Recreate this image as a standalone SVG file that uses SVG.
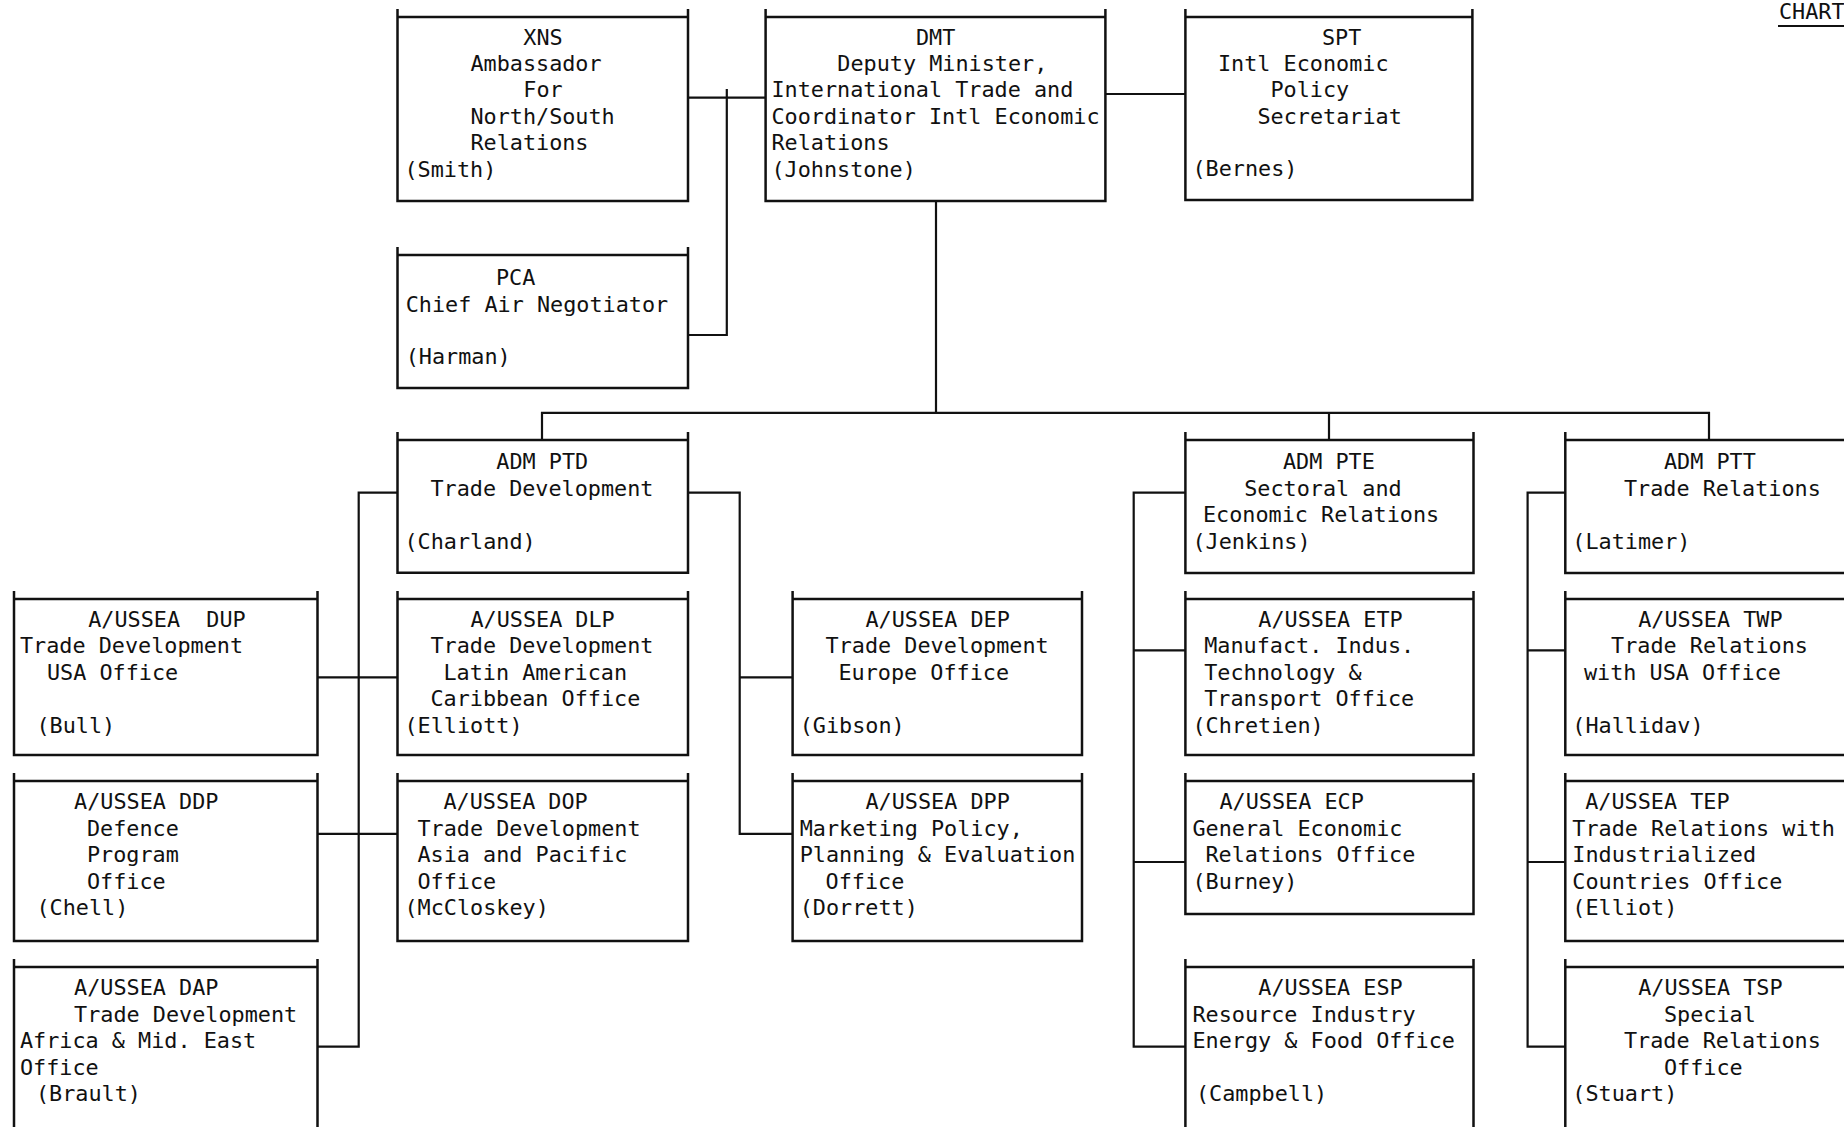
<svg xmlns="http://www.w3.org/2000/svg" width="1844" height="1127" viewBox="0 0 1844 1127">
<style>
.b{fill:none;stroke:#111;stroke-width:2.5}
.c{fill:none;stroke:#111;stroke-width:2.2}
text{font-family:"DejaVu Sans Mono","Liberation Mono",monospace;font-size:21.8px;fill:#111}
</style>
<rect width="1844" height="1127" fill="#fff"/>
<g id="connectors" class="c">
<path d="M688 97.6H765.6"/>
<path d="M726.8 89V335H688"/>
<path d="M1105.4 94H1185.4"/>
<path d="M936 201V412.8"/>
<path d="M542 440V412.8H1709V440M1329 412.8V440"/>
<path d="M397.5 492.7H358.7V1046.6H317.5M317.5 677.4H397.5M317.5 833.8H397.5"/>
<path d="M688 492.7H739.7V833.8H792.6M739.7 677.4H792.6"/>
<path d="M1185.4 492.7H1133.7V1046.6H1185.4M1133.7 650.3H1185.4M1133.7 862H1185.4"/>
<path d="M1565.3 492.7H1527.6V1046.6H1565.3M1527.6 650.3H1565.3M1527.6 862H1565.3"/>
</g>
<g id="chart"><text x="1779" y="19">CHART</text><path class="c" d="M1778 26H1844"/></g>
<g id="XNS"><path class="b" d="M397.5 9V201H688V9M397.5 17H688"/>
<text x="523.3" y="44.6">XNS</text><text x="470.4" y="71">Ambassador</text><text x="523.3" y="97.4">For</text><text x="470.4" y="123.8">North/South</text><text x="470.4" y="150.2">Relations</text><text x="404.5" y="176.6">(Smith)</text></g>
<g id="DMT"><path class="b" d="M765.6 9V201H1105.4V9M765.6 17H1105.4"/>
<text x="916" y="44.6">DMT</text><text x="837.3" y="71">Deputy Minister,</text><text x="771.5" y="97.4">International Trade and</text><text x="771.5" y="123.8">Coordinator Intl Economic</text><text x="771.5" y="150.2">Relations</text><text x="771.5" y="176.6">(Johnstone)</text></g>
<g id="SPT"><path class="b" d="M1185.4 9V200H1472.4V9M1185.4 17H1472.4"/>
<text x="1322" y="44.6">SPT</text><text x="1218" y="71">Intl Economic</text><text x="1270.5" y="97.4">Policy</text><text x="1257.5" y="123.8">Secretariat</text><text x="1192.5" y="176">(Bernes)</text></g>
<g id="PCA"><path class="b" d="M397.5 247V388H688V247M397.5 255H688"/>
<text x="496" y="284.5">PCA</text><text x="405.7" y="311.5">Chief Air Negotiator</text><text x="405.7" y="363.5">(Harman)</text></g>
<g id="PTD"><path class="b" d="M397.5 432V572.7H688V432M397.5 440H688"/>
<text x="496.3" y="469">ADM PTD</text><text x="430.4" y="495.5">Trade Development</text><text x="404.5" y="548.5">(Charland)</text></g>
<g id="PTE"><path class="b" d="M1185.4 432V573H1473.5V432M1185.4 440H1473.5"/>
<text x="1283" y="469">ADM PTE</text><text x="1244.2" y="495.5">Sectoral and</text><text x="1203" y="522">Economic Relations</text><text x="1192.5" y="548.5">(Jenkins)</text></g>
<g id="PTT"><path class="b" d="M1565.3 432V573H1860M1565.3 440H1860"/>
<text x="1664" y="469">ADM PTT</text><text x="1624" y="495.5">Trade Relations</text><text x="1572.3" y="548.5">(Latimer)</text></g>
<g id="DUP"><path class="b" d="M14 591V755H317.5V591M14 599H317.5"/>
<text x="88.2" y="626.5" xml:space="preserve">A/USSEA  DUP</text><text x="20" y="653">Trade Development</text><text x="47" y="679.5">USA Office</text><text x="36.5" y="732.5">(Bull)</text></g>
<g id="DLP"><path class="b" d="M397.5 591V755H688V591M397.5 599H688"/>
<text x="470.4" y="626.5">A/USSEA DLP</text><text x="430.4" y="653">Trade Development</text><text x="443.4" y="679.5">Latin American</text><text x="430.4" y="706">Caribbean Office</text><text x="404.5" y="732.5">(Elliott)</text></g>
<g id="DEP"><path class="b" d="M792.6 591V755H1082V591M792.6 599H1082"/>
<text x="865.5" y="626.5">A/USSEA DEP</text><text x="825.6" y="653">Trade Development</text><text x="838.5" y="679.5">Europe Office</text><text x="799.7" y="732.5">(Gibson)</text></g>
<g id="ETP"><path class="b" d="M1185.4 591V755H1473.5V591M1185.4 599H1473.5"/>
<text x="1258.3" y="626.5">A/USSEA ETP</text><text x="1204.2" y="653">Manufact. Indus.</text><text x="1204.2" y="679.5">Technology &amp;</text><text x="1204.2" y="706">Transport Office</text><text x="1192.5" y="732.5">(Chretien)</text></g>
<g id="TWP"><path class="b" d="M1565.3 591V755H1860M1565.3 599H1860"/>
<text x="1638.2" y="626.5">A/USSEA TWP</text><text x="1611.1" y="653">Trade Relations</text><text x="1584" y="679.5">with USA Office</text><text x="1572.3" y="732.5">(Hallidav)</text></g>
<g id="DDP"><path class="b" d="M14 773V941H317.5V773M14 781H317.5"/>
<text x="74.1" y="809">A/USSEA DDP</text><text x="87" y="835.5">Defence</text><text x="87" y="862">Program</text><text x="87" y="888.5">Office</text><text x="36.5" y="915">(Chell)</text></g>
<g id="DOP"><path class="b" d="M397.5 773V941H688V773M397.5 781H688"/>
<text x="443.4" y="809">A/USSEA DOP</text><text x="417.5" y="835.5">Trade Development</text><text x="417.5" y="862">Asia and Pacific</text><text x="417.5" y="888.5">Office</text><text x="404.5" y="915">(McCloskey)</text></g>
<g id="DPP"><path class="b" d="M792.6 773V941H1082V773M792.6 781H1082"/>
<text x="865.5" y="809">A/USSEA DPP</text><text x="799.7" y="835.5">Marketing Policy,</text><text x="799.7" y="862">Planning &amp; Evaluation</text><text x="825.6" y="888.5">Office</text><text x="799.7" y="915">(Dorrett)</text></g>
<g id="ECP"><path class="b" d="M1185.4 773V914H1473.5V773M1185.4 781H1473.5"/>
<text x="1219.5" y="809">A/USSEA ECP</text><text x="1192.5" y="835.5">General Economic</text><text x="1205.4" y="862">Relations Office</text><text x="1192.5" y="888.5">(Burney)</text></g>
<g id="TEP"><path class="b" d="M1565.3 773V941H1860M1565.3 781H1860"/>
<text x="1585.2" y="809">A/USSEA TEP</text><text x="1572.3" y="835.5">Trade Relations with</text><text x="1572.3" y="862">Industrialized</text><text x="1572.3" y="888.5">Countries Office</text><text x="1572.3" y="915">(Elliot)</text></g>
<g id="DAP"><path class="b" d="M14 1140V959M317.5 1140V959M14 967H317.5"/>
<text x="74.1" y="995">A/USSEA DAP</text><text x="74.1" y="1021.5">Trade Development</text><text x="20" y="1048">Africa &amp; Mid. East</text><text x="20" y="1074.5">Office</text><text x="36" y="1101">(Brault)</text></g>
<g id="ESP"><path class="b" d="M1185.4 1140V959M1473.5 1140V959M1185.4 967H1473.5"/>
<text x="1258.3" y="995">A/USSEA ESP</text><text x="1192.5" y="1021.5">Resource Industry</text><text x="1192.5" y="1048">Energy &amp; Food Office</text><text x="1196" y="1101">(Campbell)</text></g>
<g id="TSP"><path class="b" d="M1565.3 1140V959M1565.3 967H1860"/>
<text x="1638.2" y="995">A/USSEA TSP</text><text x="1664" y="1021.5">Special</text><text x="1624" y="1048">Trade Relations</text><text x="1664" y="1074.5">Office</text><text x="1572.3" y="1101">(Stuart)</text></g>
</svg>
